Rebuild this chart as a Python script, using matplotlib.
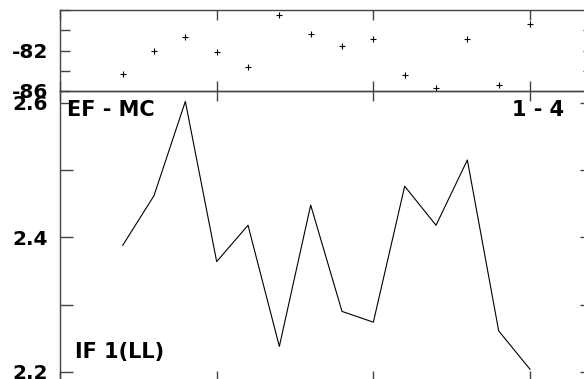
import numpy as np
import matplotlib
matplotlib.use("Agg")
import matplotlib.pyplot as plt
from matplotlib.ticker import MultipleLocator

# data
scan = [2, 3, 4, 5, 6, 7, 8, 9, 10, 11, 12, 13, 14, 15]
top_vals = [-84.33, -82.03, -80.65, -82.19, -83.60, -78.51, -80.41,
            -81.54, -80.85, -84.45, -85.67, -80.85, -85.44, -79.43]
low_vals = [2.388, 2.462, 2.602, 2.364, 2.418, 2.238, 2.448,
            2.290, 2.274, 2.476, 2.418, 2.515, 2.261, 2.204]

top_ticks = [-86, -82]
low_ticks = [2.2, 2.4, 2.6]

plt.rcParams['font.family'] = 'DejaVu Sans'
plt.rcParams['font.weight'] = 'bold'
plt.rcParams['axes.unicode_minus'] = False

W, H = 584, 379
fig = plt.figure(figsize=(W / 100, H / 100), dpi=100)

# axes boxes in pixels (left, top, right, bottom)
left_px, right_px = 60, 592.7
ax_top = fig.add_axes([left_px / W, 1 - 91 / H, (right_px - left_px) / W, 81 / H])
ax_low = fig.add_axes([left_px / W, 1 - 381 / H, (right_px - left_px) / W, 290 / H])

spine_col = '#444444'

for ax in (ax_top, ax_low):
    ax.set_xlim(0, 17)
    ax.xaxis.set_major_locator(MultipleLocator(5))
    ax.set_xticklabels([])
    for s in ax.spines.values():
        s.set_color(spine_col)
        s.set_linewidth(1.0)
    ax.patch.set_alpha(0)

# top panel
ax_top.plot(scan, top_vals, linestyle='none', marker='+', color='black',
            markersize=5, markeredgewidth=0.8)
ax_top.set_ylim(-86, -78)
ax_top.set_yticks(top_ticks)
ax_top.yaxis.set_minor_locator(MultipleLocator(2))
ax_top.tick_params(axis='both', which='both', direction='in', length=7.2,
                   width=1.0, color=spine_col, top=True, right=True,
                   labelsize=14.5, pad=8.6)

# lower panel
ax_low.plot(scan, low_vals, color='black', linewidth=0.8)
ax_low.set_ylim(2.1866, 2.6175)
ax_low.set_yticks(low_ticks)
ax_low.set_yticklabels(['2.2', '2.4', '2.6'])
ax_low.yaxis.set_minor_locator(MultipleLocator(0.1))
ax_low.tick_params(axis='y', which='both', direction='in', length=9.1,
                   width=1.0, color=spine_col, right=True,
                   labelsize=14.5, pad=8.6)
ax_low.tick_params(axis='x', which='both', direction='in', length=7.2,
                   width=1.0, color=spine_col, top=True)
for lab in ax_top.get_yticklabels() + ax_low.get_yticklabels():
    lab.set_fontweight('bold')

ax_low.text(0.0126, 0.934, 'EF - MC', transform=ax_low.transAxes,
            fontsize=15, fontweight='bold', ha='left', va='center')
ax_low.text(0.946, 0.934, '1 - 4', transform=ax_low.transAxes,
            fontsize=15, fontweight='bold', ha='right', va='center')
ax_low.text(0.028, 0.10, 'IF 1(LL)', transform=ax_low.transAxes,
            fontsize=15, fontweight='bold', ha='left', va='center')

fig.savefig('out.png', dpi=100)
